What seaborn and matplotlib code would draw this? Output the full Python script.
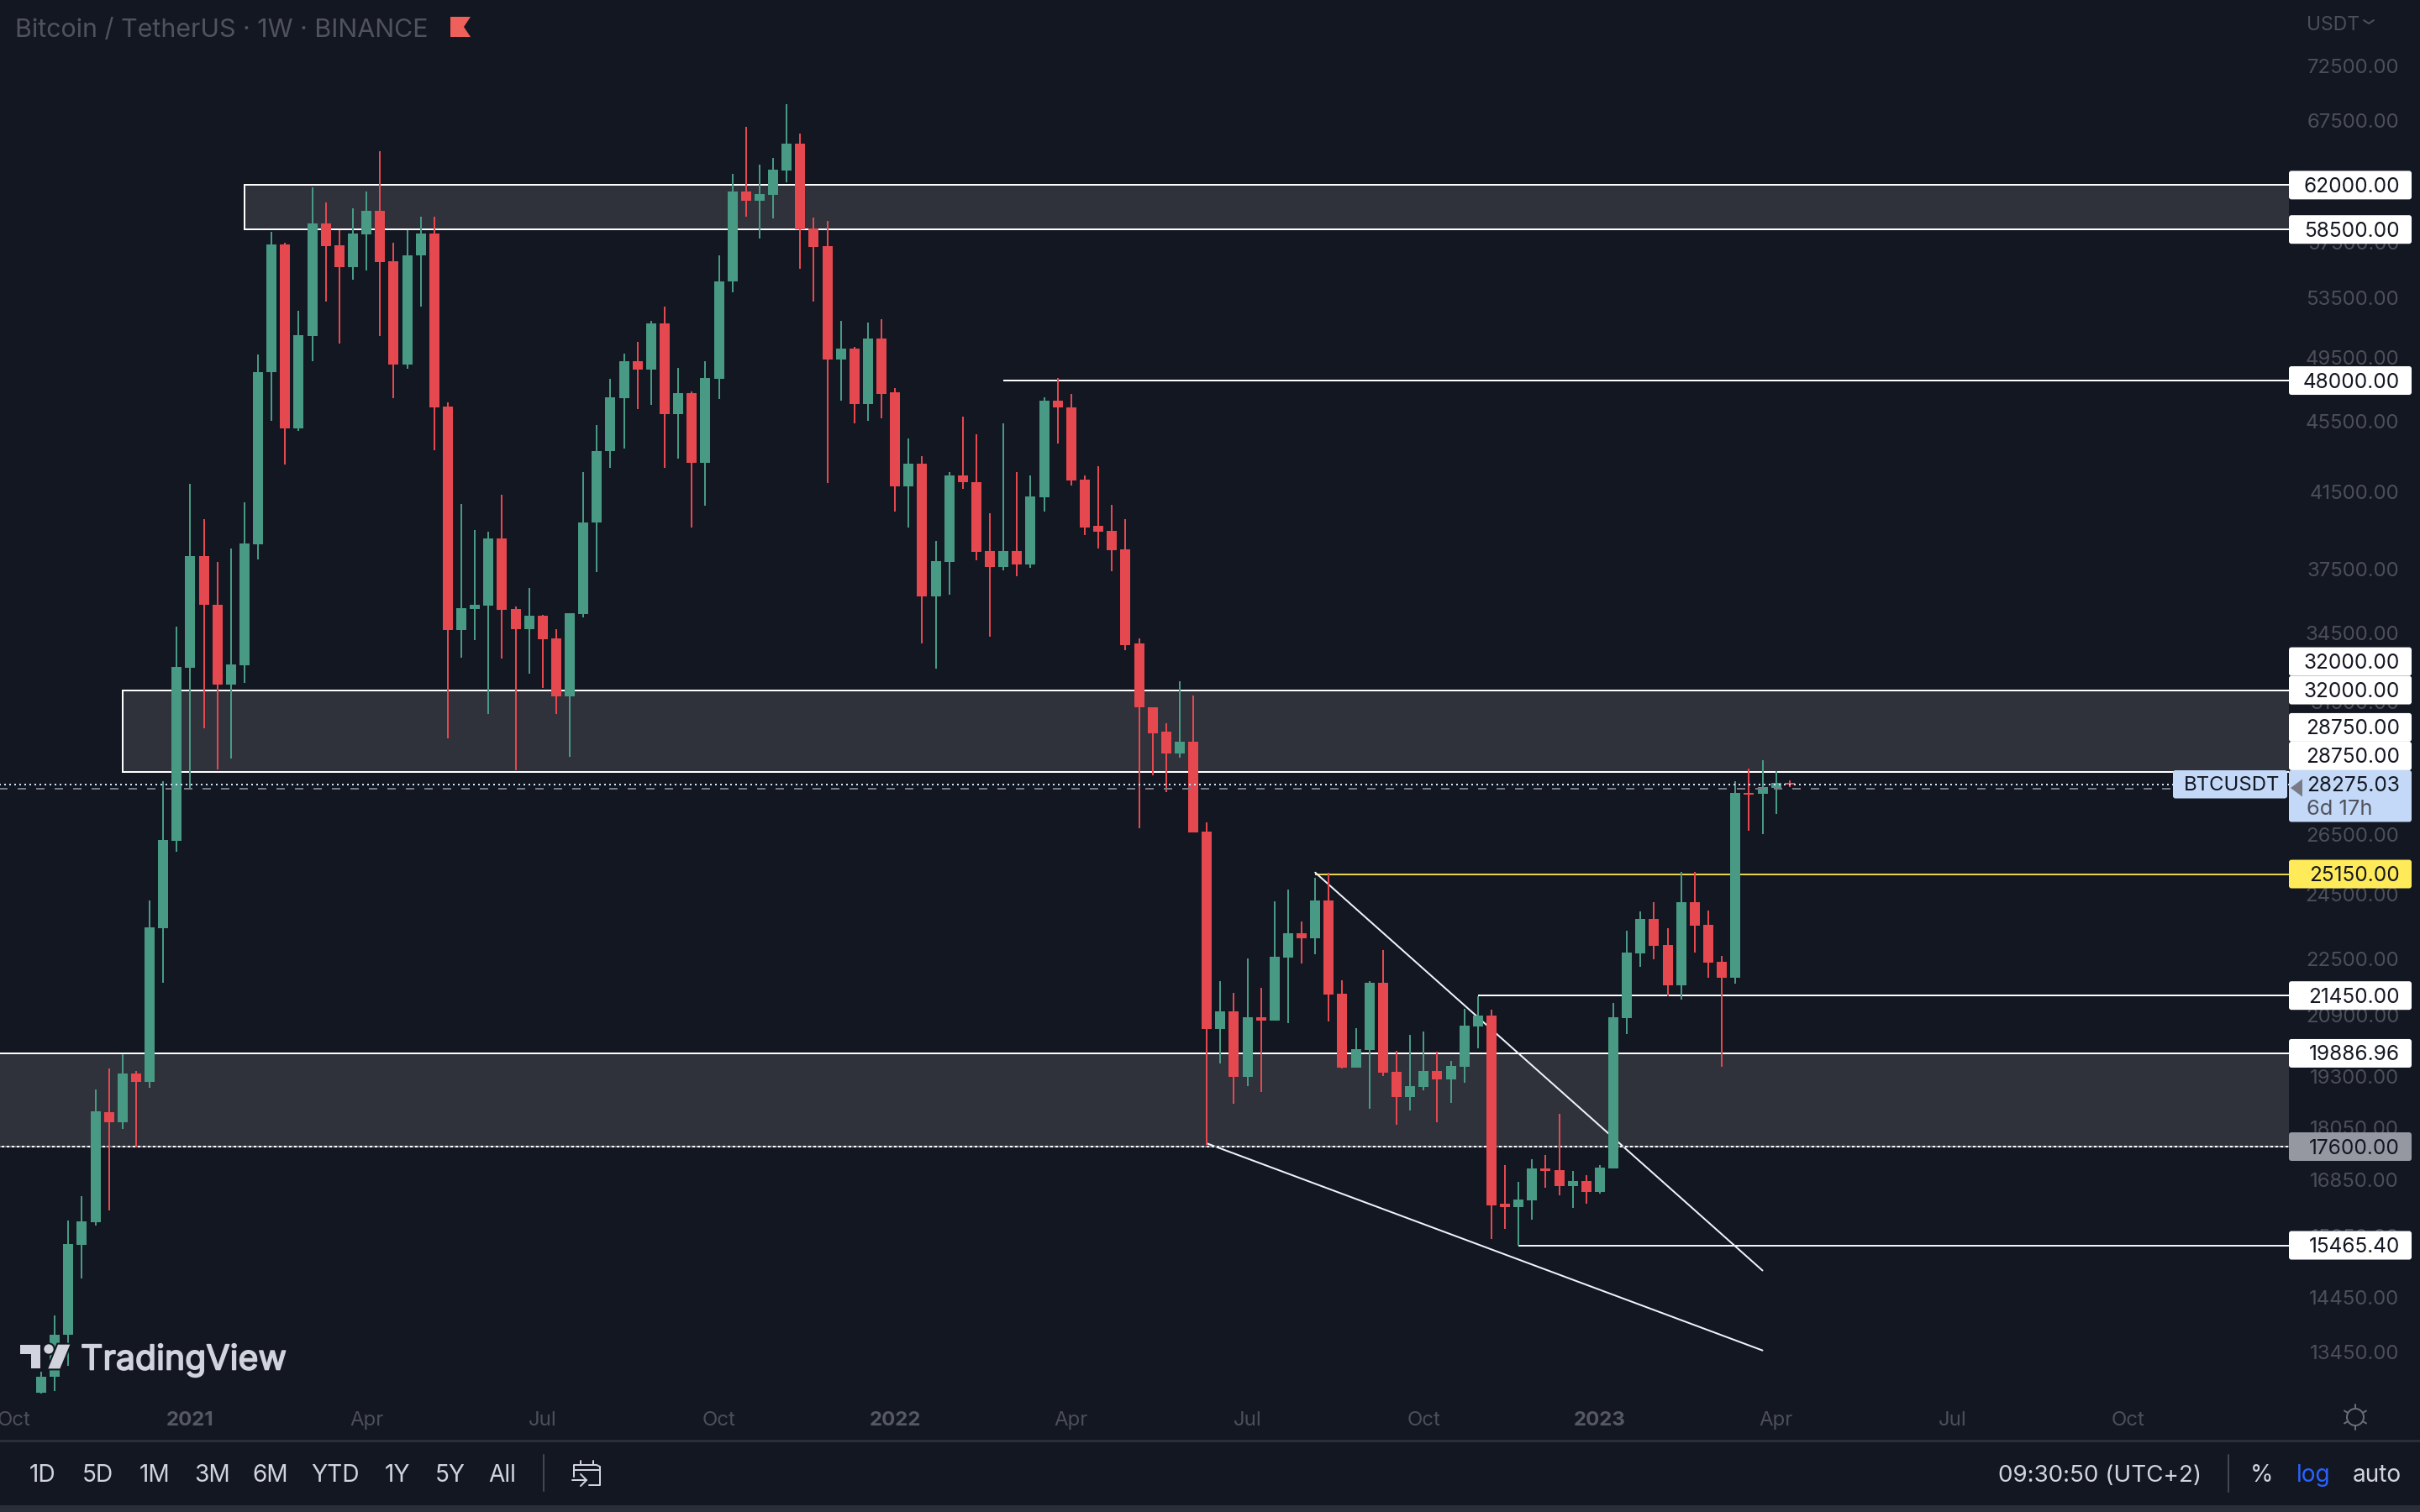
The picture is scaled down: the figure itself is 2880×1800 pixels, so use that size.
import numpy as np
import pandas as pd
import matplotlib
matplotlib.use("Agg")
import matplotlib.pyplot as plt
from matplotlib.patches import Rectangle, FancyBboxPatch, Polygon, Circle
from matplotlib.ticker import NullLocator
import matplotlib.patheffects as pe
import seaborn as sns

# ---------- data ----------
opens = [12755,13024,13758,15472,15939,18406,18165,19360,19154,23427,
         26264,32955,38150,35795,32228,33058,38731,48527,57369,45068,
         50883,58981,57294,55688,58131,59960,56110,49023,56538,58206,
         46401,34615,35588,35749,39029,35588,34658,35278,34249,31750,
         35346,39847,43753,46903,49234,48682,51727,45936,47232,43096,
         48106,54641,61492,60760,61222,63184,65459,58580,57240,49353,
         50044,46568,50743,47247,41774,43032,36173,37834,42385,42040,
         38387,37617,38387,37714,41174,46772,46360,42144,39667,39418,
         38460,34003,31300,30292,29443,29894,26582,20542,21011,19290,
         20859,20766,22552,23284,23123,24300,21503,19519,19974,21813,
         19416,18787,19036,19434,19225,19539,20603,20898,16333,16259,
         16405,17102,17072,16712,16828,16591,17102,20827,22675,23724,
         22922,21747,24242,23535,22422,21961,27968,27939,28154,28340]
closes = [13024,13758,15493,15959,18430,18165,19360,19154,23457,26298,
          32996,38150,35795,32228,33096,38782,48527,57369,45068,50945,
          58981,57257,55688,58206,59960,56042,49023,56538,58206,46339,
          34615,35638,35795,39029,35545,34658,35278,34205,31750,35390,
          39847,43753,46959,49234,48682,51727,45936,47232,43096,48162,
          54641,61492,60760,61299,63265,65459,58518,57176,49353,50044,
          46568,50743,47188,41774,43032,36173,37881,42385,42014,38337,
          37617,38387,37714,41223,46772,46330,42096,39616,39365,38435,
          33960,31282,30254,29443,29894,26549,20542,21011,19290,20859,
          20766,22575,23284,23123,24300,21481,19519,19994,21813,19396,
          18787,19056,19434,19225,19567,20623,20898,16300,16259,16428,
          17102,17054,16712,16828,16591,17129,20859,22695,23724,22899,
          21747,24242,23513,22398,21961,27968,27908,28183,28340,28275.03]
highs = [13100,14110,15980,16492,18961,19495,19869,19434,24286,28405,
         34770,41918,40052,37837,38514,40920,49674,58318,57500,52582,
         61800,60605,58430,60150,61492,64802,57474,58466,59508,59508,
         46636,40846,39475,39376,41335,35700,36568,35300,34658,35390,
         42582,45272,48106,49736,50499,51900,52880,48806,47300,49234,
         56538,62906,66923,63705,64232,68937,66333,59422,59164,51878,
         50150,51778,52041,47518,44469,43469,38900,42571,45778,44720,
         40322,45376,42571,42385,46949,48150,47160,42385,42922,40786,
         40018,34238,31300,30656,32390,31762,26899,21865,21534,22520,
         21672,24274,24649,23641,25027,25200,21886,20553,21850,22776,
         19956,20382,20472,19937,19693,21086,21440,21063,17181,16813,
         17316,17409,18375,17054,16953,17170,21249,23352,23958,24242,
         23432,25224,25224,23981,22598,28402,28872,29197,28782,28433]
lows = [12740,12780,13205,14812,15879,16192,18015,17590,19010,21815,
        25902,28120,30436,28840,29262,32314,37981,45527,43016,44956,
        49234,53246,50369,54783,55440,50883,46903,48744,52880,43809,
        30033,33393,34156,31012,33350,28820,32705,32091,31012,29315,
        35210,37343,42799,43921,46252,46488,42823,43344,39599,40740,
        46841,53890,59508,57803,59355,62236,55566,53226,41986,46743,
        45403,45522,45663,40450,39616,34003,32905,36242,41641,37952,
        34307,37427,37144,37546,40450,44188,41827,39192,38506,37382,
        33706,26698,28636,28013,29275,26549,17630,19627,18621,19056,
        18905,20766,20693,22376,22653,20736,19499,19519,18493,19310,
        18116,18458,18953,18178,18639,19139,20025,15589,15805,15465,
        15998,16682,16519,16244,16333,16550,17102,20402,22278,22497,
        21440,21344,22695,21961,19539,21790,26615,26499,27211,28183]

price_ticks = [72500,67500,57500,53500,49500,45500,41500,37500,34500,31500,
               26500,24500,22500,20900,19300,18050,16850,15650,14450,13450]
time_ticks = [-2,11,24,37,50,63,76,89,102,115,128,141,154]
time_labels = ["Oct","2021","Apr","Jul","Oct","2022","Apr","Jul","Oct","2023","Apr","Jul","Oct"]

zones = [(62000,58500,15.0),(32000,28750,6.0),(19886.96,17600,-10.0)]
levels = [(48000,71,"#FFFFFF"),(25150,94,"#E8D44D"),(21450,106,"#FFFFFF"),(15465.4,109,"#F0F3FA")]
trend_x = [(94,127),(86,127)]
trend_y = [(25200,14964),(17675,13477)]
last_price = 28275.03
prev_close = 28113
tag_values = [(62000,"62000.00",0),(58500,"58500.00",0),(48000,"48000.00",0),
              (32000,"32000.00",-34),(32000,"32000.00",0),
              (28750,"28750.00",-53),(28750,"28750.00",-19),
              (25150,"25150.00",0),(21450,"21450.00",0),(19886.96,"19886.96",0),
              (17600,"17600.00",0),(15465.4,"15465.40",0)]

# ---------- style ----------
BG = "#131722"; UP = "#489A84"; DOWN = "#E5484F"; AXT = "#4C4F5A"; UI = "#D1D4DC"
sns.set_theme(style="dark", rc={"axes.facecolor": BG, "figure.facecolor": BG, "savefig.facecolor": BG})
plt.rcParams["font.family"] = ["Inter", "DejaVu Sans"]
PX = 0.72

fig = plt.figure(figsize=(28.8, 18), dpi=100)
AX_R, AX_B = 2724, 1668
ax = fig.add_axes([0, 1 - AX_B / 1800, AX_R / 2880, AX_B / 1800])
ax.set_yscale("log")

# ---------- candles ----------
rows_w, rows_b = [], []
for i, (o, h, l, c) in enumerate(zip(opens, highs, lows, closes)):
    d = "up" if c >= o else "down"
    rows_w += [(i, i, l, d), (i, i, h, d)]
    rows_b += [(i, i, o, d), (i, i, c, d)]
cols = ["x", "candle", "price", "dir"]
wicks = pd.DataFrame(rows_w, columns=cols)
bodies = pd.DataFrame(rows_b, columns=cols)
pal = {"up": UP, "down": DOWN}
sns.lineplot(data=wicks, x="x", y="price", hue="dir", units="candle", estimator=None, sort=False,
             palette=pal, legend=False, lw=2 * PX, ax=ax, zorder=5, solid_capstyle="butt")
sns.lineplot(data=bodies, x="x", y="price", hue="dir", units="candle", estimator=None, sort=False,
             palette=pal, legend=False, lw=12 * PX, ax=ax, zorder=6, solid_capstyle="butt")

# ---------- drawings ----------
for top, bot, left in zones:
    ax.add_patch(Rectangle((left, bot), 400, top - bot, fc="#2F323B", ec="#FFFFFF", lw=2 * PX, zorder=2))
for p, x0, col in levels:
    ax.plot([x0, 400], [p, p], color=col, lw=2 * PX, zorder=3, solid_capstyle="butt")
for xs, ys in zip(trend_x, trend_y):
    ax.plot(xs, ys, color="#F0F3FA", lw=2 * PX, zorder=3)
ax.plot([-10, 400], [17600, 17600], color=BG, lw=2 * PX, ls=(0, (1.5, 1.5)), zorder=3.5, alpha=.6)
ax.plot([-10, 400], [last_price, last_price], color="#D3E5FD", lw=2 * PX, ls=(0, (1, 2)), zorder=8)
ax.plot([-10, 400], [prev_close, prev_close], color="#787B86", lw=2 * PX, ls=(0, (5, 6)), zorder=7)

# ---------- axes ----------
ax.set_xlim(-49 / 16.13, (AX_R - 49) / 16.13)
ax.set_ylim(12611, 79010)
ax.set_xlabel(""); ax.set_ylabel("")
for s in ax.spines.values():
    s.set_visible(False)
ax.grid(False)
ax.yaxis.set_minor_locator(NullLocator())
ax.set_yticks(price_ticks)
ax.set_yticklabels([f"{v:.2f}" for v in price_ticks])
ax.yaxis.set_minor_locator(NullLocator())
ax.tick_params(axis="y", which="both", left=False, right=False, labelleft=False, labelright=True,
               length=0, pad=131 * PX, labelsize=24 * PX, labelcolor=AXT)
for t in ax.get_yticklabels():
    t.set_ha("right")
ax.set_xticks(time_ticks)
ax.set_xticklabels(time_labels)
ax.tick_params(axis="x", length=0, pad=12 * PX, labelsize=24 * PX, labelcolor=AXT)
for t in ax.get_xticklabels():
    if t.get_text().isdigit():
        t.set_fontweight("bold")
        t.set_color("#565964")

# ---------- overlay (interface furniture) ----------
ov = fig.add_axes([0, 0, 1, 1], facecolor="none", zorder=10)
ov.set_xlim(0, 2880); ov.set_ylim(1800, 0); ov.axis("off")
fig.canvas.draw()

def ypx(price):
    return 1800 - ax.transData.transform((0, price))[1]

def tag(yc, text, bg, fg="#131722", h=34):
    ov.add_patch(FancyBboxPatch((AX_R, yc - h / 2), 146, h, boxstyle="round,pad=0,rounding_size=3",
                                fc=bg, ec="none", zorder=3))
    ov.text(2856, yc + 2, text, color=fg, fontsize=24.4 * PX, ha="right", va="center", zorder=4)

for p, text, dy in tag_values:
    bg = "#FFEB5A" if p == 25150 else "#9598A1" if p == 17600 else "#FFFFFF"
    tag(ypx(p) + dy, text, bg)

# current price tag
ov.add_patch(FancyBboxPatch((AX_R, 917), 146, 61.5, boxstyle="round,pad=0,rounding_size=3", fc="#C3D9F7", ec="none", zorder=3))
ov.add_patch(Polygon([(2726, 938), (2740, 927.5), (2740, 948.5)], fc="#787B86", ec="none", zorder=4))
ov.text(2856, 935, f"{last_price:.2f}", color="#131722", fontsize=24.4 * PX, ha="right", va="center", zorder=5)
ov.text(2745, 963, "6d 17h", color="#50535E", fontsize=25.5 * PX, ha="left", va="center", zorder=5)
ov.add_patch(FancyBboxPatch((2586, 917), 136, 33.5, boxstyle="round,pad=0,rounding_size=3", fc="#C3D9F7", ec="none", zorder=3))
ov.text(2599, 935, "BTCUSDT", color="#131722", fontsize=24 * PX, ha="left", va="center", zorder=5)

# title and top right
ov.text(18, 36, "Bitcoin / TetherUS · 1W · BINANCE", color="#50535E", fontsize=30.4 * PX, ha="left", va="center")
ov.add_patch(Polygon([(536, 20), (560, 20), (552, 32), (560, 44), (536, 44)], fc="#F0605A", ec="none"))
ov.text(2745, 30, "USDT", color=AXT, fontsize=23 * PX, ha="left", va="center")
ov.plot([2813, 2819, 2825], [24, 28, 24], color=AXT, lw=2 * PX)

# time-zone bar
ov.add_patch(Rectangle((0, 1713.5), 2880, 3, fc="#2A2E39", ec="none"))
ov.add_patch(Rectangle((0, 1792), 2880, 8, fc="#2A2E39", ec="none"))
for x, s in zip([51, 116, 184, 253, 322, 399, 473, 536, 598],
                ["1D", "5D", "1M", "3M", "6M", "YTD", "1Y", "5Y", "All"]):
    ov.text(x, 1757, s, color=UI, fontsize=28 * PX, ha="center", va="center")
ov.plot([646.7, 646.7], [1732, 1775], color="#434651", lw=2 * PX)
ov.plot([2651.5, 2651.5], [1732, 1776], color="#434651", lw=2 * PX)
# calendar icon
ov.plot([683, 683, 710, 714, 714, 701], [1758, 1744, 1744, 1746, 1768, 1768], color=UI, lw=2 * PX)
ov.plot([683, 714], [1750, 1750], color=UI, lw=2 * PX)
ov.plot([691, 691], [1739, 1744], color=UI, lw=2 * PX)
ov.plot([706, 706], [1739, 1744], color=UI, lw=2 * PX)
ov.plot([681, 698], [1762, 1762], color=UI, lw=2 * PX)
ov.plot([691, 698, 691], [1755, 1762, 1769], color=UI, lw=2 * PX)

ov.text(2499, 1757, "09:30:50 (UTC+2)", color=UI, fontsize=27.8 * PX, ha="center", va="center")
ov.text(2692, 1757, "%", color=UI, fontsize=28 * PX, ha="center", va="center")
ov.text(2753, 1757, "log", color="#2962FF", fontsize=28 * PX, ha="center", va="center")
ov.text(2829, 1757, "auto", color=UI, fontsize=28 * PX, ha="center", va="center")

# settings icon
cx, cy = 2803, 1687
ov.add_patch(Circle((cx, cy), 10, fc="none", ec="#6A6D78", lw=2 * PX))
for a in np.deg2rad(np.arange(0, 360, 60) + 90):
    ov.plot([cx + 11 * np.cos(a), cx + 15 * np.cos(a)], [cy + 11 * np.sin(a), cy + 15 * np.sin(a)],
            color="#6A6D78", lw=2 * PX)

# logo
halo = [pe.withStroke(linewidth=3, foreground=BG)]
def logo_pts(pts):
    return [(x / 3, 1560 + y / 3) for x, y in pts]
p1 = Polygon(logo_pts([(72,122),(145,122),(145,208),(110,208),(110,155),(72,155)]), fc=UI, ec="none", zorder=20)
p2 = Polygon(logo_pts([(207,122),(250,122),(214,208),(172,208)]), fc=UI, ec="none", zorder=20)
p3 = Circle((174 / 3, 1560 + 138 / 3), 17 / 3, fc=UI, ec="none", zorder=20)
for p in (p1, p2, p3):
    p.set_path_effects(halo)
    ov.add_patch(p)
ov.text(96, 1619, "TradingView", color=UI, fontsize=41 * PX, ha="left", va="center", zorder=20,
        path_effects=[pe.withStroke(linewidth=1.2, foreground=UI)])

fig.savefig("out.png", dpi=100)
